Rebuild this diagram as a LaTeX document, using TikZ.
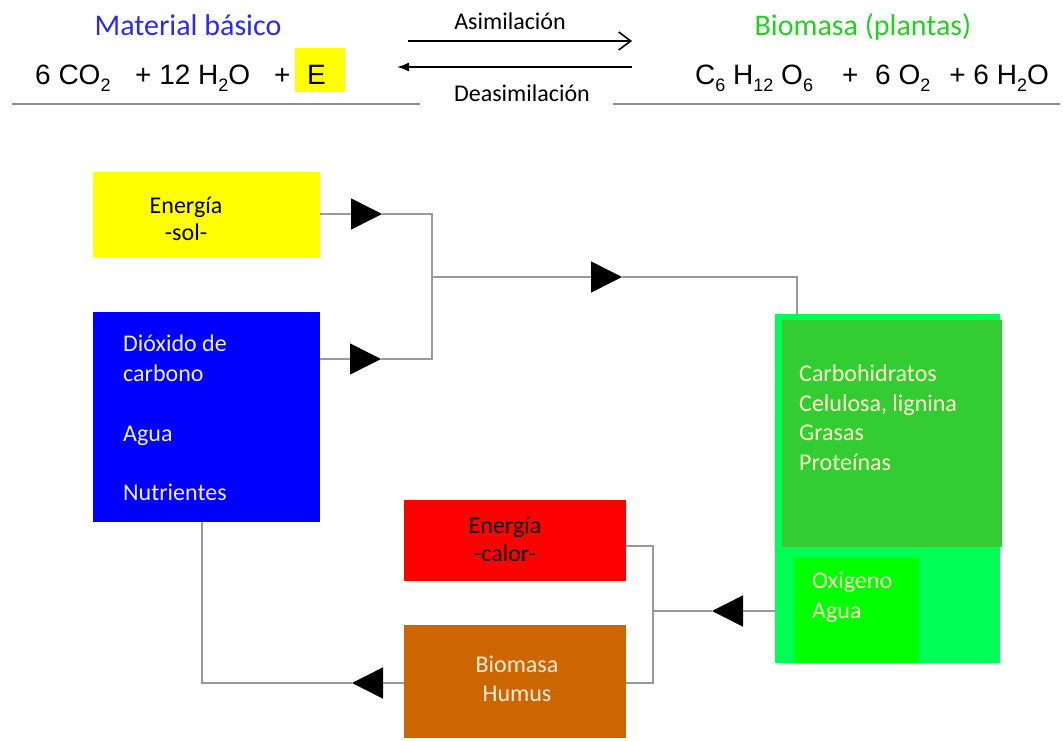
\documentclass[tikz,border=0pt]{standalone}
\usepackage{fontspec}
\setmainfont{Carlito}
\newfontfamily\arialf{Liberation Sans}
\usetikzlibrary{arrows.meta}
\definecolor{hdrblue}{HTML}{2A2AF0}
\definecolor{hdrgreen}{HTML}{22D022}
\definecolor{conncol}{HTML}{999999}
\definecolor{rulecol}{HTML}{8C8C8C}
\definecolor{boxyellow}{HTML}{FFFF00}
\definecolor{boxblue}{HTML}{0000FF}
\definecolor{boxgreen}{HTML}{33CC33}
\definecolor{boxlgreen}{HTML}{00FF55}
\definecolor{boxigreen}{HTML}{00FF00}
\definecolor{boxred}{HTML}{FF0000}
\definecolor{boxbrown}{HTML}{CC6600}
\definecolor{txtcream}{HTML}{FFFFCC}
\definecolor{txtwhite}{HTML}{F0F0FF}
\definecolor{txtpeach}{HTML}{FFEEDD}
\newcommand{\chs}[1]{\raisebox{-7pt}{\fontsize{18}{18}\selectfont #1}}
\begin{document}
\begin{tikzpicture}[x=1pt,y=-1pt,
  box/.style={anchor=north west,inner sep=0pt,outer sep=0pt},
  btxt/.style={anchor=base west,inner sep=0pt,font=\fontsize{24}{28}\selectfont},
  ctxt/.style={anchor=base,inner sep=0pt,font=\fontsize{24}{28}\selectfont},
  conn/.style={draw=conncol,line width=1.5pt},
  tip/.style={-{Triangle[length=31pt,width=31pt,color=black]}},
  hrule/.style={draw=rulecol,line width=1.5pt},
  eq/.style={anchor=base west,inner sep=0pt,font=\arialf\fontsize{28}{32}\selectfont},
  lbl/.style={inner sep=0pt,font=\fontsize{24}{28}\selectfont}]
\useasboundingbox (0,0) rectangle (1063,741);
% ---------- header ----------
\node[lbl,text=hdrblue,font=\fontsize{30}{34}\selectfont] (mat) at (188,25) {Material básico};
\node[eq] (eql1) at (35,85) {6 CO\chs{2}};
\node[eq] (eql2) at (135,85) {+ 12 H\chs{2}O};
\node[eq] (eql3) at (274,85) {+};
\node[box,fill=boxyellow,minimum width=50pt,minimum height=44pt] (ebox) at (295,48) {};
\node[eq] (etext) at (307,85) {E};
\node[lbl,text=hdrgreen,font=\fontsize{30}{34}\selectfont] (bio) at (863,27) {Biomasa (plantas)};
\node[eq] (eqr1) at (695,85) {C\chs{6} H\chs{12} O\chs{6}};
\node[eq] (eqr2) at (842,85) {+};
\node[eq] (eqr3) at (875,85) {6 O\chs{2}};
\node[eq,anchor=base east] (eqr4) at (1049,85) {+ 6 H\chs{2}O};
\coordinate (r1a) at (12,104); \coordinate (r1b) at (420,104);
\coordinate (r2a) at (613,104); \coordinate (r2b) at (1060,104);
\draw[hrule] (r1a) -- (r1b);
\draw[hrule] (r2a) -- (r2b);
\coordinate (as1) at (408,41); \coordinate (as2) at (632,41);
\coordinate (de1) at (632,67); \coordinate (de2) at (397,67);
\draw[line width=1.6pt,-{Straight Barb[length=12pt,width=18pt,line width=1.6pt]}] (as1) -- (as2);
\draw[line width=1.6pt,-{Latex[length=12pt,width=9pt]}] (de1) -- (de2);
\node[lbl] (asim) at (510,21) {Asimilación};
\node[lbl] (deas) at (522,93) {Deasimilación};
% ---------- boxes ----------
\node[box,fill=boxyellow,minimum width=227pt,minimum height=85pt] (yel) at (93,172) {};
\node[ctxt] (yel1) at (186,213) {Energía};
\node[ctxt] (yel2) at (186,240) {-sol-};
\node[box,fill=boxblue,minimum width=227pt,minimum height=210pt] (blu) at (93,312) {};
\node[btxt,text=txtwhite] (blu1) at (123,351) {Dióxido de};
\node[btxt,text=txtwhite] (blu2) at (123,381) {carbono};
\node[btxt,text=txtwhite] (blu3) at (123,441) {Agua};
\node[btxt,text=txtwhite] (blu4) at (123,500) {Nutrientes};
\node[box,fill=boxlgreen,minimum width=225pt,minimum height=349pt] (grn) at (775,314) {};
\node[box,fill=boxgreen,minimum width=220pt,minimum height=227pt] (grd) at (782,320) {};
\node[box,fill=boxigreen,minimum width=125pt,minimum height=106pt] (oxy) at (794,557) {};
\node[btxt,text=txtcream] (g1) at (799,381) {Carbohidratos};
\node[btxt,text=txtcream] (g2) at (799,411) {Celulosa, lignina};
\node[btxt,text=txtcream] (g3) at (799,440) {Grasas};
\node[btxt,text=txtcream] (g4) at (799,470) {Proteínas};
\node[btxt,text=txtcream] (o1) at (812,588) {Oxigeno};
\node[btxt,text=txtcream] (o2) at (812,618) {Agua};
\node[box,fill=boxred,minimum width=222pt,minimum height=81pt] (red) at (404,500) {};
\node[ctxt] (red1) at (505,533) {Energía};
\node[ctxt] (red2) at (505,561) {-calor-};
\node[box,fill=boxbrown,minimum width=222pt,minimum height=113pt] (brw) at (404,625) {};
\node[ctxt,text=txtpeach] (brw1) at (517,672) {Biomasa};
\node[ctxt,text=txtpeach] (brw2) at (517,701) {Humus};
% ---------- connectors ----------
\coordinate (yout) at (320,214);
\coordinate (t1) at (382,214);
\coordinate (j1) at (432,214);
\coordinate (bout) at (320,359);
\coordinate (t2) at (381,359);
\coordinate (j2) at (432,359);
\coordinate (j3) at (432,277);
\coordinate (t3) at (622,277);
\coordinate (k3) at (797,277);
\coordinate (gin) at (797,314);
\coordinate (gout) at (775,611);
\coordinate (t4) at (712,611);
\coordinate (j4) at (653,611);
\coordinate (rout) at (626,546);
\coordinate (rj) at (653,546);
\coordinate (bwout) at (626,683);
\coordinate (bj) at (653,683);
\coordinate (bwin) at (404,683);
\coordinate (t5) at (352,683);
\coordinate (k5) at (202,683);
\coordinate (bin) at (202,522);
\draw[conn,tip] (yout) -- (t1);
\draw[conn,tip] (bout) -- (t2);
\draw[conn] (t1) -- (j1) -- (j2) -- (t2);
\draw[conn,tip] (j3) -- (t3);
\draw[conn] (t3) -- (k3) -- (gin);
\draw[conn,tip] (gout) -- (t4);
\draw[conn] (t4) -- (j4);
\draw[conn] (rout) -- (rj) -- (bj) -- (bwout);
\draw[conn,tip] (bwin) -- (t5);
\draw[conn] (t5) -- (k5) -- (bin);
\end{tikzpicture}
\end{document}
